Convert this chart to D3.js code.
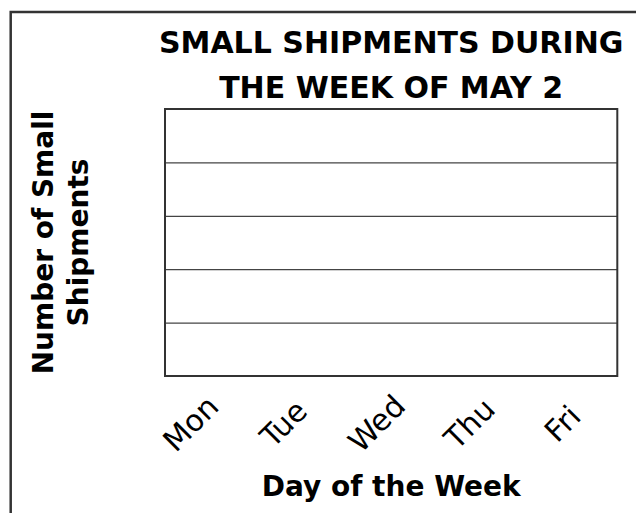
<!DOCTYPE html>
<html>
<head>
<meta charset="utf-8">
<script src="https://cdn.jsdelivr.net/npm/d3@7"></script>
<style>
  body { margin: 0; background: #fff; }
  svg { display: block; font-family: 'DejaVu Sans', sans-serif; }
  .frame { fill: none; stroke: #333; }
  .grid line { stroke: #444; stroke-width: 1.2; }
  .grid path { display: none; }
  .title { font-weight: bold; font-size: 30px; text-anchor: middle; fill: #000; }
  .axis-title { font-weight: bold; font-size: 28px; text-anchor: middle; fill: #000; }
  .tick-label { font-size: 30px; fill: #000; }
</style>
</head>
<body>
<svg id="chart" width="636" height="513"></svg>
<script>
// DATA
const days = ['Mon', 'Tue', 'Wed', 'Thu', 'Fri'];
const yMax = 5;
const gridValues = [1, 2, 3, 4];
const titleLines = ['SMALL SHIPMENTS DURING', 'THE WEEK OF MAY 2'];
const yTitleLines = ['Number of Small', 'Shipments'];
const xTitle = 'Day of the Week';

// SETUP
let svg = d3.select('#chart'),
  margin = { top: 109, right: 18.7, bottom: 137, left: 165 },
  width = 636 - margin.left - margin.right,
  height = 513 - margin.top - margin.bottom;

// outer worksheet border (top + left only)
svg.append('path')
  .attr('class', 'frame')
  .attr('stroke-width', 2.5)
  .attr('d', 'M636,12H10.7V513');

let g = svg.append('g')
  .attr('transform', 'translate(' + margin.left + ',' + margin.top + ')');

let y = d3.scaleLinear().domain([0, yMax]).range([height, 0]);
// labels sit under the plot, a little left of the bands
let xLabel = d3.scalePoint().domain(days).range([196 - margin.left, 568 - margin.left]);

// GRID
g.append('g')
  .attr('class', 'grid')
  .call(d3.axisLeft(y).tickValues(gridValues).tickSize(-width).tickFormat(''));

g.append('rect')
  .attr('class', 'frame')
  .attr('stroke-width', 2)
  .attr('width', width)
  .attr('height', height);

// X LABELS
g.selectAll('.tick-label')
  .data(days)
  .enter()
  .append('text')
  .attr('class', 'tick-label')
  .attr('text-anchor', 'middle')
  .attr('transform', function (d) {
    return 'translate(' + (xLabel(d) + 2) + ',' + (height + 55) + ') rotate(-45)';
  })
  .text(function (d) { return d; });

// TITLE
svg.selectAll('.title')
  .data(titleLines)
  .enter()
  .append('text')
  .attr('class', 'title')
  .attr('x', margin.left + width / 2)
  .attr('y', function (d, i) { return 53 + i * 45; })
  .text(function (d) { return d; });

// AXIS TITLES
svg.append('text')
  .attr('class', 'axis-title')
  .attr('x', margin.left + width / 2)
  .attr('y', 496)
  .text(xTitle);

svg.selectAll('.y-title')
  .data(yTitleLines)
  .enter()
  .append('text')
  .attr('class', 'axis-title y-title')
  .attr('transform', function (d, i) {
    return 'translate(' + (53 + i * 35) + ',' + (margin.top + height / 2) + ') rotate(-90)';
  })
  .text(function (d) { return d; });
</script>
</body>
</html>
